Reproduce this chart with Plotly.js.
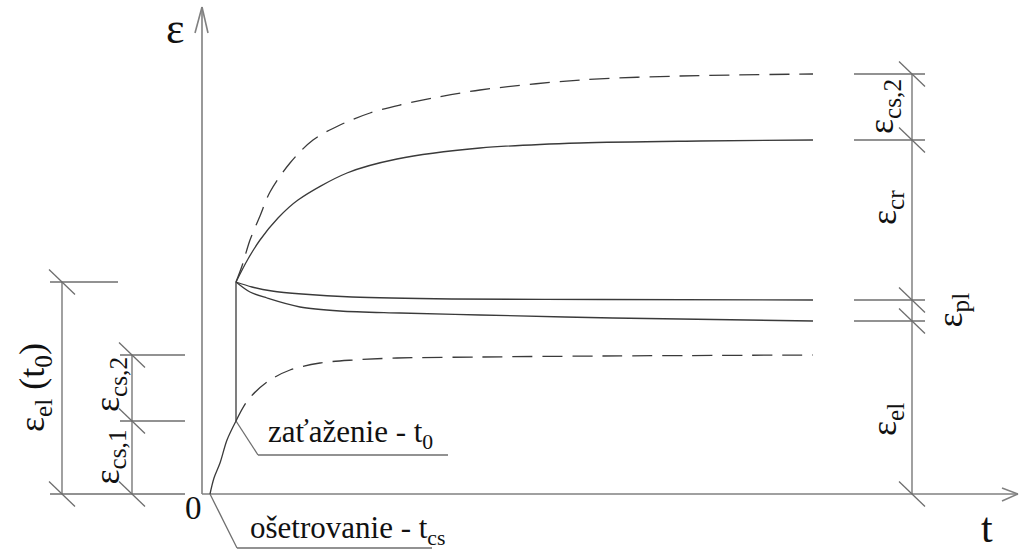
<!DOCTYPE html>
<html>
<head>
<meta charset="utf-8">
<script src="https://cdn.plot.ly/plotly-3.0.1.min.js"></script>
<style>
  html, body { margin: 0; padding: 0; background: #fff; }
  #chart { width: 1019px; height: 550px; }
</style>
</head>
<body>
<div id="chart"></div>
<script>
// Strain development in time: shrinkage, elastic, creep and plastic parts.
// t and ε in arbitrary units (t = 0 at the strain axis, ε = 0 on the time axis).

// shrinkage from end of curing (t_cs) up to loading (t0)
const tShrinkEarly   = [8, 12, 18, 25, 34];
const epsShrinkEarly = [0, 16, 31, 54, 73];

// shrinkage after loading
const tShrinkLate   = [34, 46, 65, 88, 118, 151, 195, 278, 400, 611];
const epsShrinkLate = [73, 94, 112, 124, 131, 134, 136, 137, 138, 139];

// total strain (elastic + creep + shrinkage)
const tTotal   = [34, 40, 48, 58, 68, 88, 111, 138, 168, 198, 231, 278, 378, 478, 611];
const epsTotal = [212, 228, 254, 278, 302, 331, 354, 369, 381, 389, 396, 404, 414, 418, 420];

// elastic + creep strain
const tCreep   = [34, 46, 58, 76, 96, 145, 195, 278, 378, 498, 611];
const epsCreep = [212, 235, 254, 276, 294, 321, 335, 346, 351, 353, 354];

// elastic + plastic strain
const tPlastic   = [34, 50, 70, 100, 150, 250, 400, 611];
const epsPlastic = [212, 207, 203, 200, 197, 195, 194.5, 194];

// elastic strain
const tElastic   = [34, 48, 65, 98, 138, 198, 278, 411, 611];
const epsElastic = [212, 202, 196, 187, 183, 181, 179, 176, 173];

// label texts
const labelAxisEps = 'ε';
const labelAxisT = 't';
const labelZero = '0';
const labelLoading = 'zaťaženie - t<sub>0</sub>';
const labelCuring = 'ošetrovanie - t<sub>cs</sub>';

// ---- derived levels ----
const t0 = tElastic[0];
const tcs = tShrinkEarly[0];
const epsLoad = epsElastic[0];
const epsCs1 = epsShrinkLate[0];
const last = a => a[a.length - 1];
const epsCsEnd = last(epsShrinkLate);
const rightLevels = [last(epsTotal), last(epsCreep), last(epsPlastic), last(epsElastic)];

// ---- styles ----
const curveColor = '#3a3a3a';
const axisColor = '#808080';
const dimColor = '#6e6e6e';
const textFont = 'Liberation Serif';

function curve(x, y, dashed) {
  return {
    type: 'scatter', mode: 'lines', x: x, y: y, hoverinfo: 'skip',
    line: { color: curveColor, width: 1.3, shape: 'spline', smoothing: 0.9,
            dash: dashed ? '20px,10px' : 'solid' }
  };
}

// straight segments collected per style, drawn as gapped line traces
function segGroup(color, width) {
  const g = { x: [], y: [], color: color, width: width };
  g.add = (x0, y0, x1, y1) => { g.x.push(x0, x1, null); g.y.push(y0, y1, null); };
  return g;
}
const axes = segGroup(axisColor, 1.6);
const dims = segGroup(dimColor, 1.3);
const jump = segGroup(curveColor, 1.3);
const slash = (x, y) => dims.add(x - 13, y + 12.5, x + 13, y - 12.5);

// axes with open arrow heads
const xEnd = 816, yEnd = 487;
axes.add(0, 0, 0, yEnd);
axes.add(-7, yEnd - 26, 0, yEnd);
axes.add(6, yEnd - 26, 0, yEnd);
axes.add(0, 0, xEnd, 0);
axes.add(xEnd - 16, 6, xEnd, 0);
axes.add(xEnd - 16, -7, xEnd, 0);

// jump at loading
jump.add(t0, epsCs1, t0, epsLoad);

// right dimension chain
const xR = 710;
dims.add(xR, 0, xR, rightLevels[0]);
rightLevels.forEach(v => { dims.add(652, v, 723, v); slash(xR, v); });
slash(xR, 0);

// left dimension: elastic strain at loading
const xL1 = -140;
dims.add(xL1, 0, xL1, epsLoad);
dims.add(-152, epsLoad, -84, epsLoad);
slash(xL1, epsLoad); slash(xL1, 0);

// left dimension: shrinkage parts
const xL2 = -70;
dims.add(xL2, 0, xL2, epsCsEnd);
dims.add(-82, epsCsEnd, -17, epsCsEnd);
dims.add(-82, epsCs1, -17, epsCs1);
slash(xL2, epsCsEnd); slash(xL2, epsCs1); slash(xL2, 0);
dims.add(-152, 0, -17, 0);

// leader lines
dims.add(t0, epsCs1, 56, 39);
dims.add(56, 39, 246, 39);
dims.add(tcs, 0, 35, -54);
dims.add(35, -54, 230, -54);

const segTrace = g => ({ type: 'scatter', mode: 'lines', x: g.x, y: g.y, hoverinfo: 'skip',
  connectgaps: false, line: { color: g.color, width: g.width } });

const traces = [
  segTrace(axes), segTrace(dims), segTrace(jump),
  curve(tShrinkEarly, epsShrinkEarly, false),
  curve(tShrinkLate, epsShrinkLate, true),
  curve(tTotal, epsTotal, true),
  curve(tCreep, epsCreep, false),
  curve(tPlastic, epsPlastic, false),
  curve(tElastic, epsElastic, false)
];

function ann(x, y, text, size, opts) {
  return Object.assign({ x: x, y: y, xref: 'x', yref: 'y', text: text, showarrow: false,
    font: { family: textFont, size: size, color: '#111' }, xanchor: 'center', yanchor: 'middle' }, opts || {});
}

const annotations = [
  ann(-27, 466, labelAxisEps, 44),
  ann(785, -34, labelAxisT, 42),
  ann(-9, -14, labelZero, 33),
  ann(64, 60, labelLoading, 31, { xanchor: 'left' }),
  ann(46, -36, labelCuring, 31, { xanchor: 'left' }),
  // right chain
  ann(681, (rightLevels[0] + rightLevels[1]) / 2, 'ε<sub>cs,2</sub>', 36, { textangle: -90 }),
  ann(684, (rightLevels[1] + rightLevels[2]) / 2 + 12, 'ε<sub>cr</sub>', 36, { textangle: -90 }),
  ann(750, (rightLevels[2] + rightLevels[3]) / 2, 'ε<sub>pl</sub>', 36, { textangle: -90 }),
  ann(684, 74, 'ε<sub>el</sub>', 36, { textangle: -90 }),
  // left chains
  ann(-168, epsLoad / 2, 'ε<sub>el</sub> (t<sub>0</sub>)', 36, { textangle: -90 }),
  ann(-93, (epsCs1 + epsCsEnd) / 2 + 3, 'ε<sub>cs,2</sub>', 36, { textangle: -90 }),
  ann(-93, epsCs1 / 2, 'ε<sub>cs,1</sub>', 36, { textangle: -90 })
];

const layout = {
  width: 1019, height: 550,
  margin: { l: 0, r: 0, t: 0, b: 0 },
  showlegend: false,
  xaxis: { range: [-202, 817], visible: false },
  yaxis: { range: [-56, 494], visible: false },
  annotations: annotations
};

Plotly.newPlot('chart', traces, layout, { staticPlot: true });
</script>
</body>
</html>
